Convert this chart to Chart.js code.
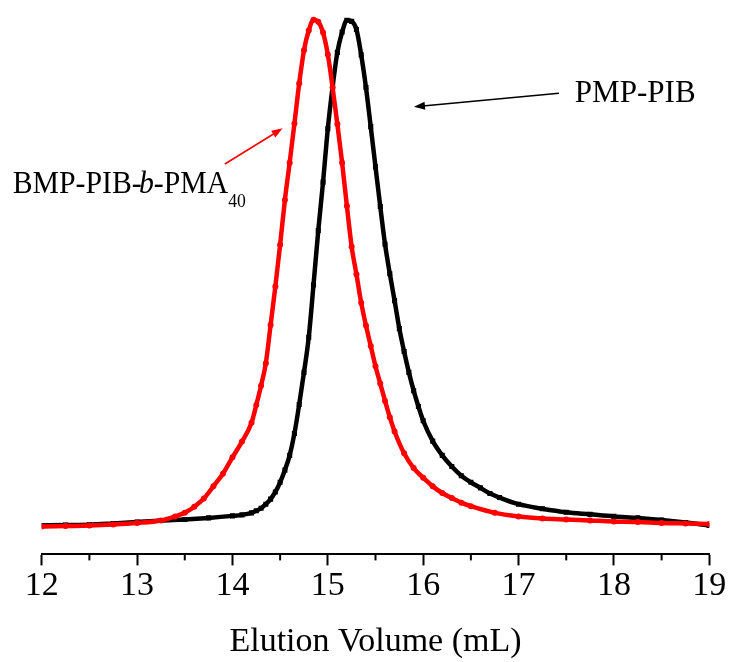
<!DOCTYPE html>
<html>
<head>
<meta charset="utf-8">
<title>Elution profiles</title>
<script src="https://cdn.jsdelivr.net/npm/chart.js@4/dist/chart.umd.min.js"></script>
<style>
  html, body { margin: 0; padding: 0; background: #fff; }
  #wrap { width: 731px; height: 662px; }
</style>
</head>
<body>
<div id="wrap"><canvas id="sec" width="731" height="662"></canvas></div>
<script>
// Elution volume (mL) and normalised detector signal for each sample
const volumePMP = [12.0,12.25,12.5,12.75,13.0,13.25,13.5,13.75,14.0,14.1,14.2,14.25,14.3,14.35,14.4,14.45,14.5,
  14.55,14.6,14.65,14.7,14.75,14.8,14.85,14.9,14.95,15.0,15.05,15.1,15.15,15.2,15.25,15.3,15.35,15.4,15.45,15.5,
  15.55,15.6,15.65,15.7,15.75,15.8,15.85,15.9,15.95,16.0,16.1,16.2,16.3,16.4,16.5,16.6,16.7,16.8,
  17.0,17.25,17.5,17.75,18.0,18.25,18.5,18.75,19.0];
const signalPMP = [0.005,0.006,0.0065,0.009,0.012,0.015,0.017,0.020,0.024,0.026,0.030,0.034,0.039,0.047,0.057,0.071,0.090,
  0.114,0.143,0.186,0.243,0.306,0.375,0.478,0.585,0.680,0.785,0.867,0.935,0.975,0.998,0.996,0.980,0.930,0.866,0.789,0.710,
  0.632,0.558,0.500,0.447,0.392,0.347,0.306,0.270,0.239,0.211,0.171,0.143,0.121,0.103,0.090,0.079,0.068,0.060,
  0.047,0.038,0.031,0.027,0.023,0.020,0.016,0.011,0.005];

const volumeBlock = [12.0,12.25,12.5,12.75,13.0,13.25,13.4,13.5,13.6,13.7,13.8,13.9,14.0,14.1,14.2,14.25,14.3,14.35,14.4,14.45,
  14.5,14.55,14.6,14.65,14.7,14.75,14.8,14.85,14.9,14.95,15.0,15.05,15.1,15.15,15.2,15.25,15.3,15.35,15.4,15.45,
  15.5,15.55,15.6,15.65,15.7,15.8,15.9,16.0,16.1,16.2,16.3,16.4,16.5,16.75,17.0,17.25,17.5,17.75,18.0,18.25,
  18.5,18.75,19.0];
const signalBlock = [0.003,0.004,0.005,0.007,0.010,0.015,0.023,0.030,0.042,0.058,0.082,0.107,0.139,0.170,0.207,0.242,0.280,0.324,0.399,0.475,
  0.557,0.645,0.718,0.795,0.874,0.939,0.978,0.999,0.995,0.974,0.931,0.866,0.794,0.718,0.633,0.553,0.499,0.443,0.398,0.358,
  0.318,0.284,0.250,0.218,0.190,0.147,0.118,0.099,0.082,0.069,0.059,0.050,0.043,0.030,0.023,0.019,0.017,0.015,0.013,0.012,
  0.010,0.009,0.008];

const majorTicks = [12, 13, 14, 15, 16, 17, 18, 19];
const minorTicks = [12.5, 13.5, 14.5, 15.5, 16.5, 17.5, 18.5];
const axisTitle = 'Elution Volume (mL)';

const SERIF = '"Liberation Serif", "Times New Roman", serif';

function pairs(xs, ys) { return xs.map((v, i) => ({ x: v, y: ys[i] })); }

// Minor ticks, curve labels and pointer arrows
const decorations = {
  id: 'decorations',
  afterDraw(chart) {
    const { ctx, chartArea, scales: { x, y } } = chart;
    ctx.save();
    ctx.strokeStyle = '#000';
    ctx.lineWidth = 2;
    minorTicks.forEach(v => {
      const px = x.getPixelForValue(v);
      ctx.beginPath();
      ctx.moveTo(px, chartArea.bottom);
      ctx.lineTo(px, chartArea.bottom + 6);
      ctx.stroke();
    });

    function arrow(from, to, color, width) {
      const x0 = x.getPixelForValue(from[0]), y0 = y.getPixelForValue(from[1]);
      const x1 = x.getPixelForValue(to[0]), y1 = y.getPixelForValue(to[1]);
      const ang = Math.atan2(y1 - y0, x1 - x0);
      const len = 11, half = 4;
      ctx.strokeStyle = color; ctx.fillStyle = color; ctx.lineWidth = width;
      ctx.beginPath();
      ctx.moveTo(x0, y0);
      ctx.lineTo(x1 - Math.cos(ang) * len * 0.8, y1 - Math.sin(ang) * len * 0.8);
      ctx.stroke();
      ctx.beginPath();
      ctx.moveTo(x1, y1);
      ctx.lineTo(x1 - Math.cos(ang) * len - Math.sin(ang) * half, y1 - Math.sin(ang) * len + Math.cos(ang) * half);
      ctx.lineTo(x1 - Math.cos(ang) * len + Math.sin(ang) * half, y1 - Math.sin(ang) * len - Math.cos(ang) * half);
      ctx.closePath();
      ctx.fill();
    }

    // a run of text pieces: [text, style, size, baseline shift, kerning]
    function runs(at, pieces, squeeze) {
      const px = x.getPixelForValue(at[0]);
      const py = y.getPixelForValue(at[1]);
      ctx.save();
      ctx.translate(px, py);
      ctx.scale(squeeze, 1);
      ctx.fillStyle = '#000';
      ctx.textBaseline = 'alphabetic';
      ctx.textAlign = 'left';
      let cx = 0;
      pieces.forEach(([t, style, size, dy, kern]) => {
        ctx.font = `${style} ${size}px ${SERIF}`;
        cx += kern || 0;
        ctx.fillText(t, cx, dy);
        cx += ctx.measureText(t).width;
      });
      ctx.restore();
    }

    arrow([17.423, 0.8545], [15.903, 0.8282], '#000', 1.5);
    arrow([13.921, 0.7156], [14.526, 0.7857], '#ff0000', 1.6);

    runs([17.59, 0.838], [['PMP-PIB', 'normal', 32, 0, 0]], 0.97);
    runs([11.696, 0.658], [
      ['BMP-PIB-', 'normal', 32, 0, 0],
      ['b', 'italic', 32, 0, -3],
      ['-PMA', 'normal', 32, 0, 0],
      ['40', 'normal', 19, 14, 0]
    ], 0.93);
    ctx.restore();
  }
};

new Chart(document.getElementById('sec'), {
  type: 'line',
  data: {
    datasets: [
      {
        label: 'BMP-PIB-b-PMA40',
        data: pairs(volumeBlock, signalBlock),
        borderColor: '#ff0000',
        backgroundColor: '#ff0000',
        borderWidth: 4.5,
        pointStyle: 'circle',
        pointRadius: 3,
        pointBorderWidth: 0,
        cubicInterpolationMode: 'monotone',
        order: 0
      },
      {
        label: 'PMP-PIB',
        data: pairs(volumePMP, signalPMP),
        borderColor: '#000000',
        backgroundColor: '#000000',
        borderWidth: 4.5,
        pointStyle: 'rect',
        pointRadius: 3.6,
        pointBorderWidth: 0,
        cubicInterpolationMode: 'monotone',
        order: 1
      }
    ]
  },
  options: {
    responsive: false,
    animation: false,
    devicePixelRatio: 1,
    layout: { padding: { left: 41.7, right: 21.7, top: 5, bottom: 0 } },
    plugins: { legend: { display: false }, tooltip: { enabled: false } },
    scales: {
      x: {
        type: 'linear',
        min: 12,
        max: 19,
        afterBuildTicks(scale) { scale.ticks = majorTicks.map(v => ({ value: v })); },
        ticks: {
          color: '#000',
          font: { family: SERIF, size: 34 },
          padding: 0,
          maxRotation: 0,
          callback: v => String(v)
        },
        grid: {
          display: true,
          drawOnChartArea: false,
          drawTicks: true,
          tickLength: 11,
          tickWidth: 2,
          tickColor: '#000'
        },
        border: { display: true, color: '#000', width: 2 },
        title: {
          display: true,
          text: axisTitle,
          color: '#000',
          font: { family: SERIF, size: 34 },
          padding: { top: 15, bottom: 0 }
        }
      },
      y: {
        display: false,
        min: -0.0517,
        max: 1.0281
      }
    }
  },
  plugins: [decorations]
});
</script>
</body>
</html>
